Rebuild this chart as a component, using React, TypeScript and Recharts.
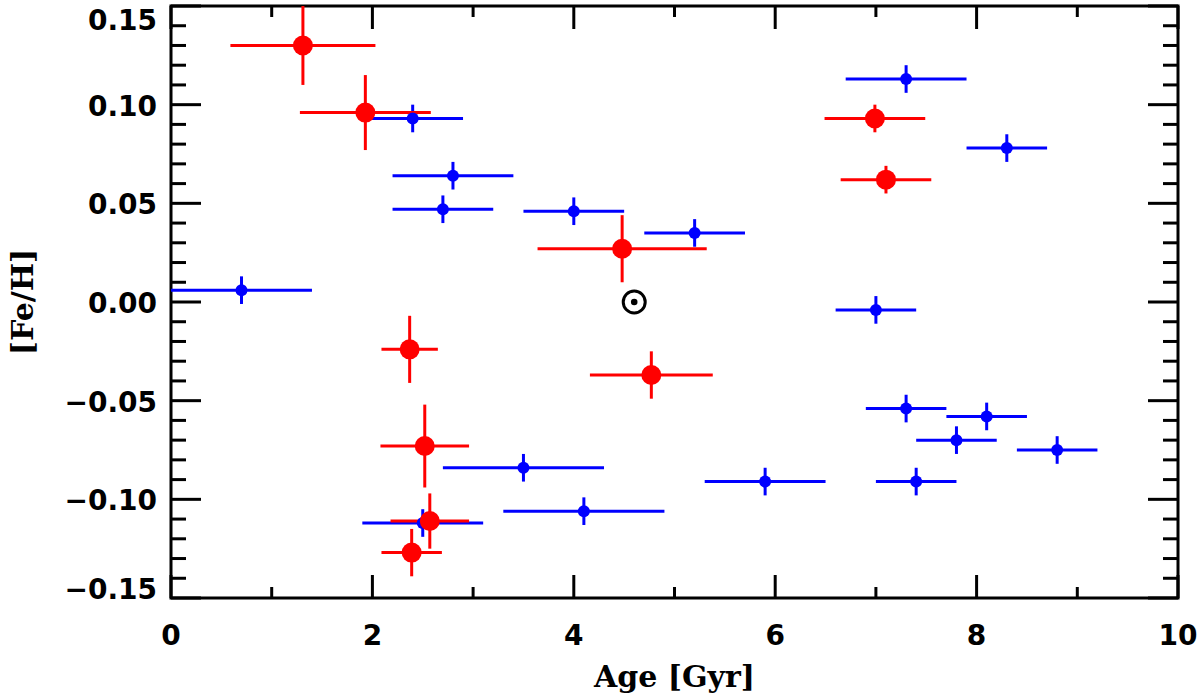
import React from 'react';
import {
  ScatterChart,
  Scatter,
  XAxis,
  YAxis,
  ErrorBar,
  ReferenceArea,
} from 'recharts';

// blue sample
const BLUE_AGE = [2.4, 2.8, 2.7, 0.7, 4.0, 5.2, 7.3, 8.3, 7.0, 3.5, 4.1, 2.5, 5.9, 7.3, 8.1, 7.8, 8.8, 7.4];
const BLUE_FEH = [0.093, 0.064, 0.047, 0.006, 0.046, 0.035, 0.113, 0.078, -0.004, -0.084, -0.106, -0.112, -0.091, -0.054, -0.058, -0.07, -0.075, -0.091];
const BLUE_AGE_ERR = [0.5, 0.6, 0.5, 0.7, 0.5, 0.5, 0.6, 0.4, 0.4, 0.8, 0.8, 0.6, 0.6, 0.4, 0.4, 0.4, 0.4, 0.4];
const BLUE_FEH_ERR = [0.007, 0.007, 0.007, 0.007, 0.007, 0.007, 0.007, 0.007, 0.007, 0.007, 0.007, 0.007, 0.007, 0.007, 0.007, 0.007, 0.007, 0.007];

// red sample
const RED_AGE = [1.31, 1.93, 4.48, 2.37, 4.77, 2.52, 2.57, 2.39, 6.99, 7.1];
const RED_FEH = [0.13, 0.096, 0.027, -0.024, -0.037, -0.073, -0.111, -0.127, 0.093, 0.062];
const RED_AGE_ERR = [0.72, 0.65, 0.84, 0.28, 0.61, 0.44, 0.39, 0.3, 0.5, 0.45];
const RED_FEH_ERR = [0.02, 0.019, 0.017, 0.017, 0.012, 0.021, 0.014, 0.012, 0.007, 0.007];

// the Sun
const SUN_AGE = [4.6];
const SUN_FEH = [0.0];

const X_TICKS = [0, 1, 2, 3, 4, 5, 6, 7, 8, 9, 10];
const X_LABELS = ['0', '2', '4', '6', '8', '10'];
const Y_TICKS = [
  -0.15, -0.14, -0.13, -0.12, -0.11, -0.1, -0.09, -0.08, -0.07, -0.06, -0.05, -0.04, -0.03, -0.02, -0.01, 0,
  0.01, 0.02, 0.03, 0.04, 0.05, 0.06, 0.07, 0.08, 0.09, 0.1, 0.11, 0.12, 0.13, 0.14, 0.15,
];
const Y_LABELS = ['\u22120.15', '\u22120.10', '\u22120.05', '0.00', '0.05', '0.10', '0.15'];

const W = 1200;
const H = 699;
const LEFT = 171;
const RIGHT = 1178;
const TOP = 6;
const BOTTOM = 598;

const TICK_FONT = '"DejaVu Sans", sans-serif';
const TITLE_FONT = '"DejaVu Serif", serif';
const BLUE = '#0000ff';
const RED = '#ff0000';

const toRows = (age: number[], feh: number[], ageErr?: number[], fehErr?: number[]) =>
  age.map((a, i) => ({
    age: a,
    feh: feh[i],
    ageErr: ageErr ? ageErr[i] : 0,
    fehErr: fehErr ? fehErr[i] : 0,
  }));

const blueData = toRows(BLUE_AGE, BLUE_FEH, BLUE_AGE_ERR, BLUE_FEH_ERR);
const redData = toRows(RED_AGE, RED_FEH, RED_AGE_ERR, RED_FEH_ERR);
const sunData = toRows(SUN_AGE, SUN_FEH);

function XTick(props: any) {
  const { x, y, payload } = props;
  const v = payload.value as number;
  const major = v % 2 === 0;
  const len = major ? 23 : 11;
  return (
    <g>
      <line x1={x} x2={x} y1={y} y2={y - len} stroke="#000" strokeWidth={3} />
      <line x1={x} x2={x} y1={TOP} y2={TOP + len} stroke="#000" strokeWidth={3} />
      {major && (
        <text x={x} y={y + 47} textAnchor="middle" fontFamily={TICK_FONT} fontWeight="bold" fontSize={28} fill="#000">
          {X_LABELS[v / 2]}
        </text>
      )}
    </g>
  );
}

function YTick(props: any) {
  const { x, y, payload } = props;
  const v = payload.value as number;
  const k = Math.round(v * 100);
  const major = k % 5 === 0;
  const len = major ? 30 : 15;
  // keep the end labels inside the frame, as the original does
  const dy = k === 15 ? 24 : k === -15 ? 1 : 11;
  return (
    <g>
      <line x1={x} x2={x + len} y1={y} y2={y} stroke="#000" strokeWidth={3} />
      <line x1={RIGHT} x2={RIGHT - len} y1={y} y2={y} stroke="#000" strokeWidth={3} />
      {major && (
        <text x={x - 14} y={y + dy} textAnchor="end" fontFamily={TICK_FONT} fontWeight="bold" fontSize={28} fill="#000">
          {Y_LABELS[(k + 15) / 5]}
        </text>
      )}
    </g>
  );
}

const blueDot = (p: any) => <circle cx={p.cx} cy={p.cy} r={6} fill={BLUE} />;
const redDot = (p: any) => <circle cx={p.cx} cy={p.cy} r={10} fill={RED} />;
const sunDot = (p: any) => (
  <g>
    <circle cx={p.cx} cy={p.cy} r={11} fill="none" stroke="#000" strokeWidth={3} />
    <circle cx={p.cx} cy={p.cy} r={3.3} fill="#000" />
  </g>
);

export default function App() {
  return (
    <div style={{ position: 'absolute', left: 0, top: 0, background: '#fff' }}>
      <ScatterChart width={W} height={H} margin={{ top: TOP, right: W - RIGHT, bottom: 0, left: 0 }}>
        <XAxis
          type="number"
          dataKey="age"
          domain={[0, 10]}
          ticks={X_TICKS}
          interval={0}
          allowDataOverflow
          height={H - BOTTOM}
          tickSize={0}
          tickMargin={0}
          axisLine={false}
          tickLine={false}
          tick={<XTick />}
          label={{
            value: 'Age [Gyr]',
            position: 'insideBottom',
            offset: 12,
            fontFamily: TITLE_FONT,
            fontWeight: 'bold',
            fontSize: 30,
            fill: '#000',
          }}
        />
        <YAxis
          type="number"
          dataKey="feh"
          domain={[-0.15, 0.15]}
          ticks={Y_TICKS}
          interval={0}
          allowDataOverflow
          width={LEFT}
          tickSize={0}
          tickMargin={0}
          axisLine={false}
          tickLine={false}
          tick={<YTick />}
          label={{
            content: () => (
              <text
                transform={`translate(33, ${(TOP + BOTTOM) / 2}) rotate(-90)`}
                textAnchor="middle"
                fontFamily={TITLE_FONT}
                fontWeight="bold"
                fontSize={30}
                fill="#000"
              >
                [Fe/H]
              </text>
            ),
          }}
        />
        <Scatter data={blueData} shape={blueDot} isAnimationActive={false}>
          <ErrorBar dataKey="ageErr" direction="x" width={0} stroke={BLUE} strokeWidth={3} isAnimationActive={false} />
          <ErrorBar dataKey="fehErr" direction="y" width={0} stroke={BLUE} strokeWidth={3} isAnimationActive={false} />
        </Scatter>
        <Scatter data={redData} shape={redDot} isAnimationActive={false}>
          <ErrorBar dataKey="ageErr" direction="x" width={0} stroke={RED} strokeWidth={3} isAnimationActive={false} />
          <ErrorBar dataKey="fehErr" direction="y" width={0} stroke={RED} strokeWidth={3} isAnimationActive={false} />
        </Scatter>
        <Scatter data={sunData} shape={sunDot} isAnimationActive={false} />
        <ReferenceArea x1={0} x2={10} y1={-0.15} y2={0.15} fill="none" stroke="#000" strokeWidth={3} />
      </ScatterChart>
    </div>
  );
}
